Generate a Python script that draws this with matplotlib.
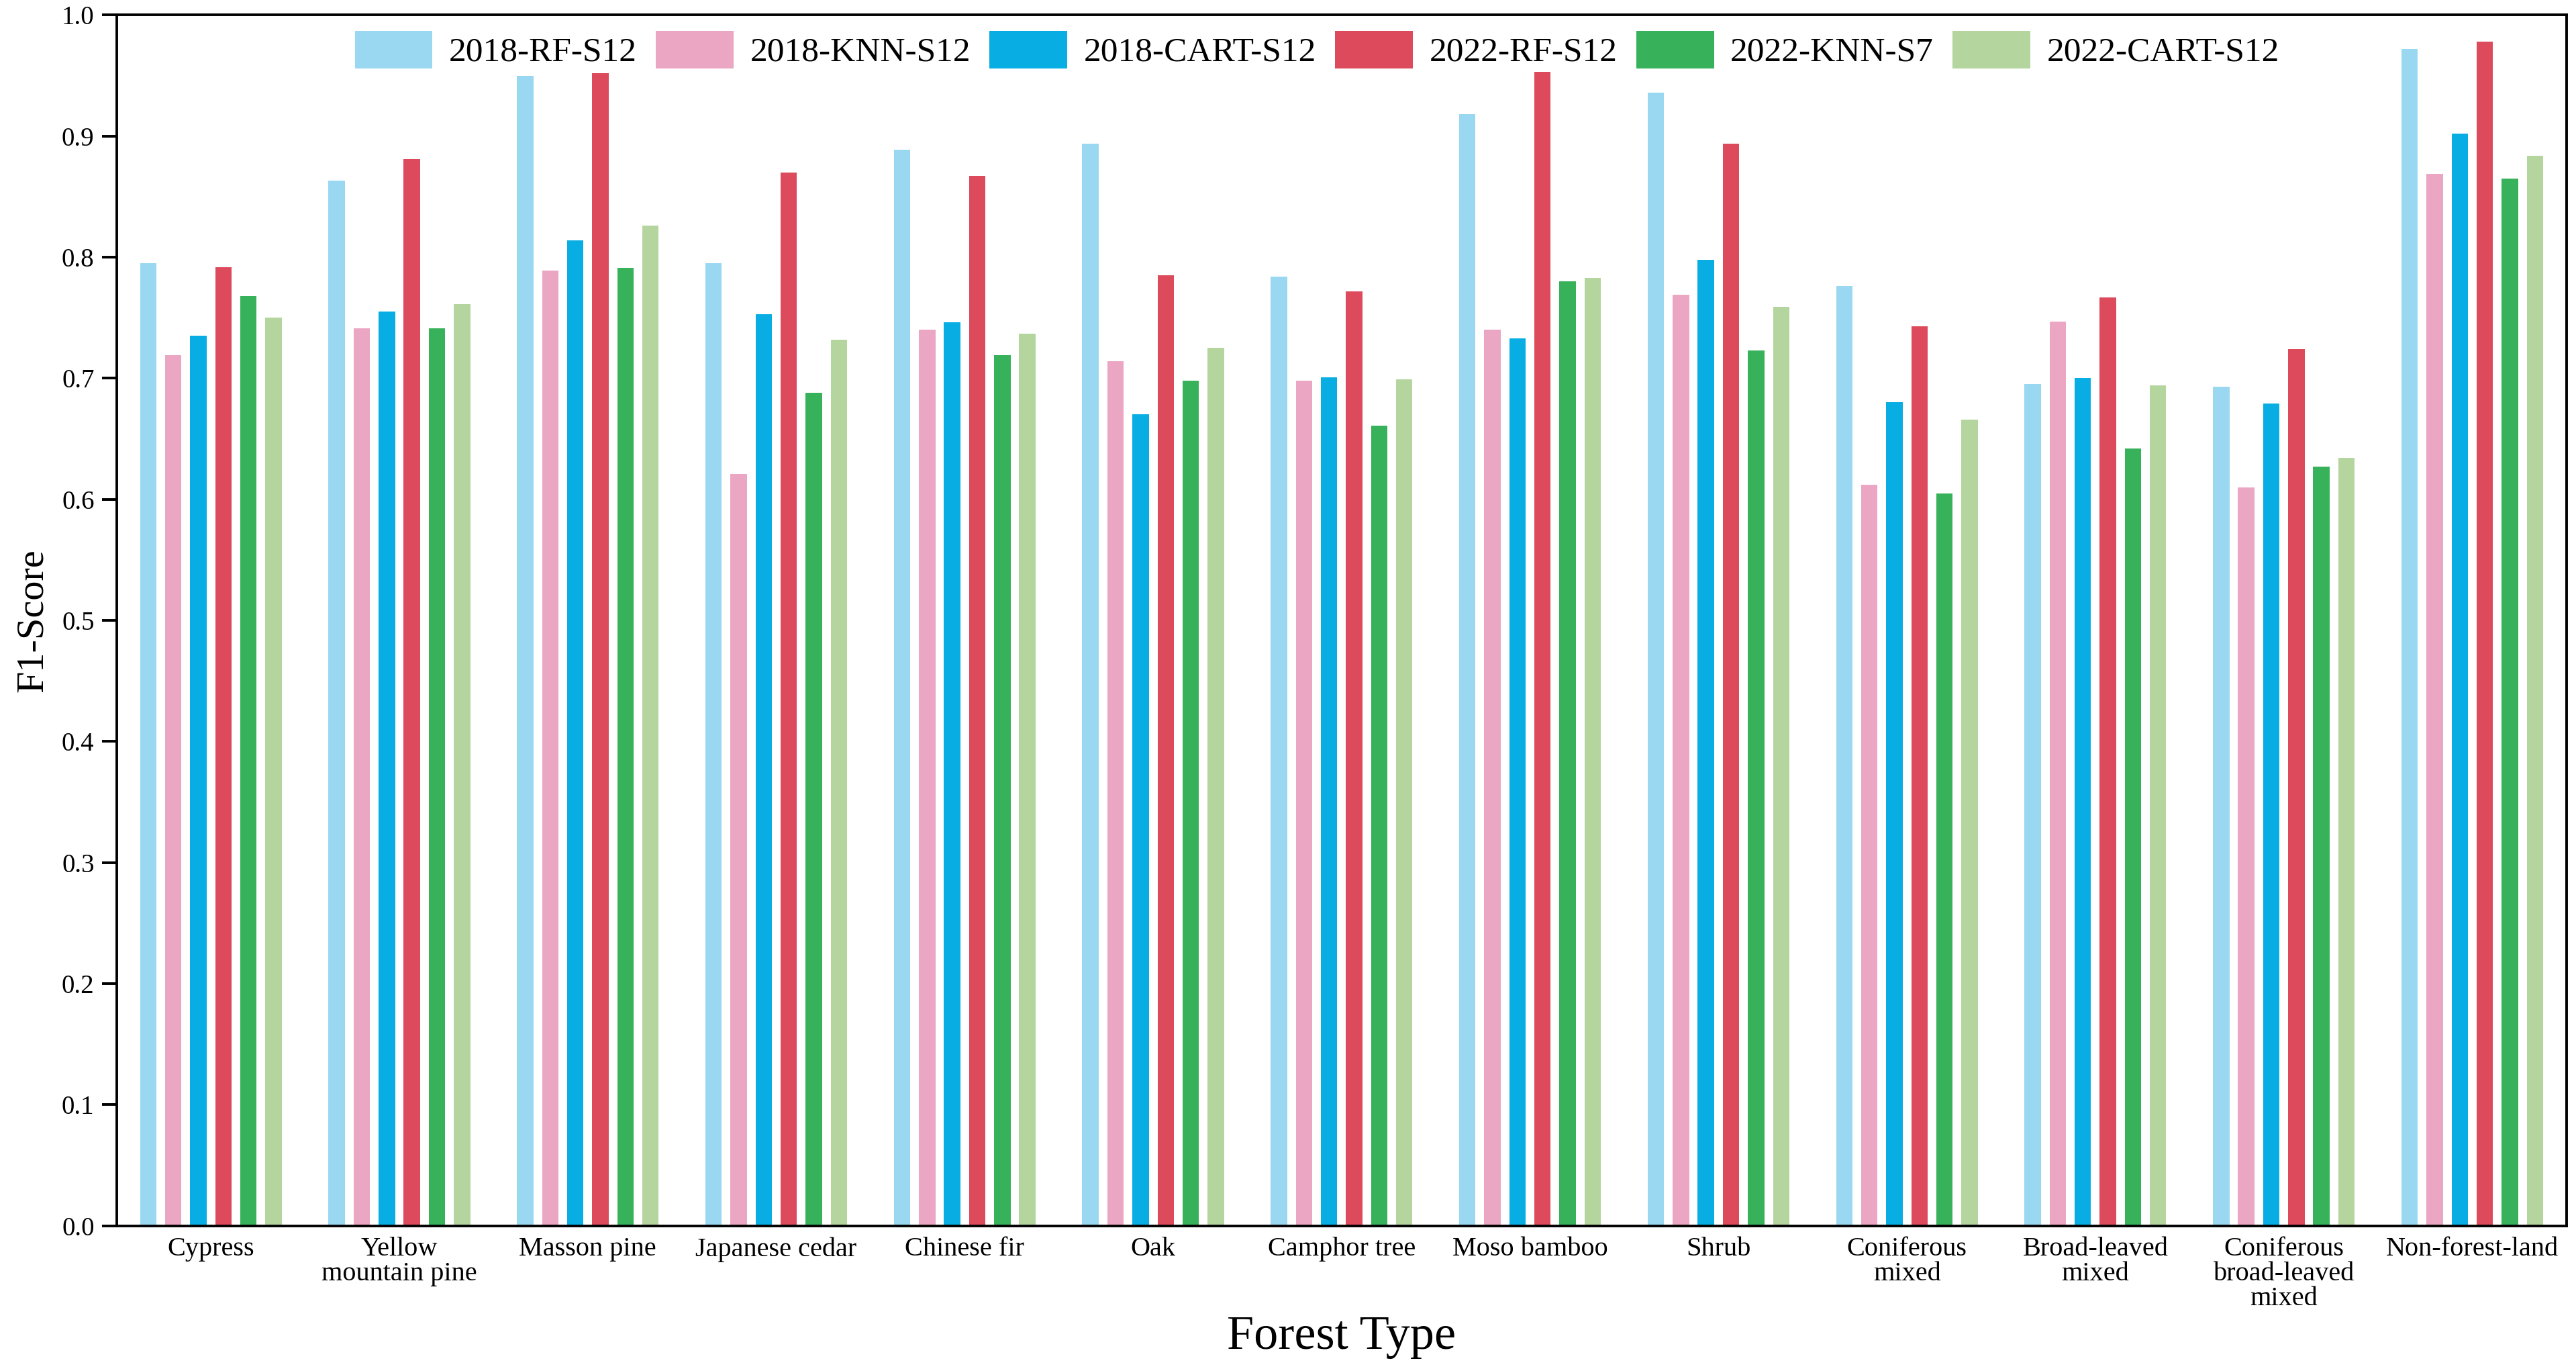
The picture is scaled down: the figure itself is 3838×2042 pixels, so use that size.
import numpy as np
import matplotlib.pyplot as plt

# categories and series
forest_types = ['Cypress', 'Yellow\nmountain pine', 'Masson pine', 'Japanese cedar',
                'Chinese fir', 'Oak', 'Camphor tree', 'Moso bamboo', 'Shrub',
                'Coniferous\nmixed', 'Broad-leaved\nmixed',
                'Coniferous\nbroad-leaved\nmixed', 'Non-forest-land']

rf_2018 = [0.795, 0.863, 0.950, 0.795, 0.889, 0.894, 0.784, 0.918, 0.936, 0.776, 0.695, 0.693, 0.972]
knn_2018 = [0.719, 0.741, 0.789, 0.621, 0.740, 0.714, 0.698, 0.740, 0.769, 0.612, 0.747, 0.610, 0.869]
cart_2018 = [0.735, 0.755, 0.814, 0.753, 0.746, 0.670, 0.701, 0.733, 0.798, 0.680, 0.700, 0.679, 0.902]
rf_2022 = [0.792, 0.881, 0.952, 0.870, 0.867, 0.785, 0.772, 0.953, 0.894, 0.743, 0.767, 0.724, 0.978]
knn_2022 = [0.768, 0.741, 0.791, 0.688, 0.719, 0.698, 0.661, 0.780, 0.723, 0.605, 0.642, 0.627, 0.865]
cart_2022 = [0.750, 0.761, 0.826, 0.732, 0.737, 0.725, 0.699, 0.783, 0.759, 0.666, 0.694, 0.634, 0.884]

series_names = ['2018-RF-S12', '2018-KNN-S12', '2018-CART-S12',
                '2022-RF-S12', '2022-KNN-S7', '2022-CART-S12']
series = [rf_2018, knn_2018, cart_2018, rf_2022, knn_2022, cart_2022]
colors = ['#9AD8F1', '#EAA6C2', '#08AEE3', '#DC4A5B', '#37B15A', '#B4D59E']

plt.rcParams['font.family'] = ['Liberation Serif', 'DejaVu Serif']

fig = plt.figure(figsize=(19.19, 10.21), dpi=200)
ax = fig.add_axes([0.0453, 0.106, 0.951, 0.883])

x = np.arange(len(forest_types))
step = 0.133
width = 0.087
for i, (name, vals) in enumerate(zip(series_names, series)):
    ax.bar(x + (i - 2.5) * step, vals, width, color=colors[i], label=name)

ax.set_xlim(-0.5, len(forest_types) - 0.5)
ax.set_ylim(0, 1.0)
ax.set_yticks(np.arange(0, 1.01, 0.1))
ax.set_yticklabels(['%.1f' % v for v in np.arange(0, 1.01, 0.1)], fontsize=14)
ax.set_xticks(x)
ax.set_xticklabels(forest_types, fontsize=14.5, linespacing=1.0, va='top')
ax.tick_params(axis='x', length=0, pad=6)
ax.tick_params(axis='y', direction='out', length=8, width=1.4, pad=4)
for s in ax.spines.values():
    s.set_linewidth(1.4)

ax.set_ylabel('F1-Score', fontsize=21, labelpad=6)
ax.set_xlabel('Forest Type', fontsize=26, labelpad=2)

ax.legend(loc='upper center', bbox_to_anchor=(0.49, 1.0), ncol=6, frameon=False,
          fontsize=18.5, handlelength=2.25, handleheight=1.3, columnspacing=0.55,
          handletextpad=0.48, borderaxespad=0.05)

fig.savefig('out.png', dpi=200)
